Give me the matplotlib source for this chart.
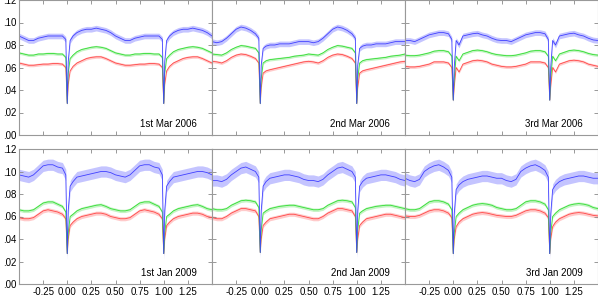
import matplotlib
matplotlib.use("Agg")
import matplotlib.pyplot as plt
import numpy as np

# orbital phase grid (one period, repeated on the plot)
PHASE = [0.00, 0.01, 0.03, 0.06, 0.10, 0.15, 0.20, 0.25, 0.30, 0.35, 0.40, 0.45,
         0.50, 0.55, 0.60, 0.65, 0.70, 0.75, 0.80, 0.85, 0.90, 0.95, 0.985]

LABELS = ["1st Mar 2006", "2nd Mar 2006", "3rd Mar 2006",
          "1st Jan 2009", "2nd Jan 2009", "3rd Jan 2009"]

XTICKS = [-0.5, -0.25, 0.0, 0.25, 0.5, 0.75, 1.0, 1.25, 1.5]
XTICK_LABELS = ["", "-0.25", "0.00", "0.25", "0.50", "0.75", "1.00", "1.25", ""]

BLUE = [
    [0.028, 0.065, 0.084, 0.088, 0.091, 0.093, 0.094, 0.094, 0.095, 0.094, 0.093, 0.091,
     0.088, 0.086, 0.084, 0.084, 0.086, 0.087, 0.088, 0.088, 0.088, 0.088, 0.085],
    [0.028, 0.062, 0.077, 0.079, 0.080, 0.080, 0.081, 0.081, 0.081, 0.082, 0.083, 0.083,
     0.083, 0.082, 0.083, 0.086, 0.090, 0.094, 0.096, 0.095, 0.093, 0.090, 0.086],
    [0.031, 0.060, 0.084, 0.080, 0.088, 0.089, 0.090, 0.0905, 0.089, 0.088, 0.086, 0.0845,
     0.084, 0.084, 0.083, 0.085, 0.087, 0.089, 0.090, 0.091, 0.091, 0.090, 0.085],
    [0.027, 0.065, 0.087, 0.091, 0.095, 0.096, 0.097, 0.098, 0.099, 0.100, 0.100, 0.099,
     0.097, 0.096, 0.095, 0.097, 0.101, 0.105, 0.106, 0.106, 0.104, 0.103, 0.097],
    [0.028, 0.065, 0.087, 0.091, 0.094, 0.095, 0.096, 0.097, 0.097, 0.096, 0.095, 0.093,
     0.092, 0.092, 0.091, 0.093, 0.097, 0.100, 0.103, 0.104, 0.102, 0.100, 0.095],
    [0.027, 0.062, 0.084, 0.088, 0.091, 0.093, 0.094, 0.095, 0.096, 0.096, 0.095, 0.094,
     0.094, 0.092, 0.091, 0.093, 0.100, 0.103, 0.105, 0.106, 0.104, 0.101, 0.095],
]

GREEN = [
    [0.028, 0.055, 0.068, 0.071, 0.074, 0.076, 0.077, 0.078, 0.0785, 0.078, 0.077, 0.075,
     0.073, 0.072, 0.071, 0.071, 0.072, 0.072, 0.0725, 0.0725, 0.072, 0.072, 0.069],
    [0.028, 0.050, 0.064, 0.066, 0.067, 0.0675, 0.068, 0.0685, 0.069, 0.070, 0.0705, 0.071,
     0.072, 0.0715, 0.071, 0.073, 0.076, 0.078, 0.0795, 0.079, 0.078, 0.077, 0.073],
    [0.031, 0.050, 0.070, 0.066, 0.072, 0.0735, 0.075, 0.0755, 0.075, 0.074, 0.0725, 0.0715,
     0.071, 0.0705, 0.0705, 0.071, 0.072, 0.073, 0.0745, 0.075, 0.075, 0.074, 0.070],
    [0.027, 0.045, 0.060, 0.062, 0.065, 0.067, 0.068, 0.069, 0.070, 0.0705, 0.069, 0.067,
     0.066, 0.065, 0.065, 0.066, 0.069, 0.072, 0.073, 0.073, 0.071, 0.069, 0.064],
    [0.028, 0.048, 0.063, 0.065, 0.067, 0.068, 0.069, 0.0695, 0.070, 0.070, 0.069, 0.068,
     0.067, 0.066, 0.066, 0.067, 0.070, 0.072, 0.074, 0.0745, 0.074, 0.073, 0.068],
    [0.027, 0.045, 0.060, 0.063, 0.066, 0.068, 0.070, 0.071, 0.0715, 0.071, 0.070, 0.068,
     0.067, 0.066, 0.066, 0.067, 0.070, 0.073, 0.074, 0.074, 0.073, 0.071, 0.066],
]

RED = [
    [0.028, 0.045, 0.057, 0.061, 0.064, 0.066, 0.068, 0.069, 0.0695, 0.0695, 0.068, 0.066,
     0.064, 0.063, 0.062, 0.062, 0.0625, 0.063, 0.063, 0.0635, 0.0635, 0.063, 0.060],
    [0.028, 0.042, 0.055, 0.057, 0.058, 0.059, 0.060, 0.061, 0.062, 0.063, 0.064, 0.065,
     0.0655, 0.065, 0.064, 0.066, 0.069, 0.071, 0.072, 0.0715, 0.070, 0.068, 0.064],
    [0.031, 0.043, 0.060, 0.056, 0.063, 0.0645, 0.066, 0.0665, 0.066, 0.065, 0.063, 0.062,
     0.061, 0.0605, 0.0605, 0.061, 0.062, 0.063, 0.065, 0.065, 0.065, 0.064, 0.060],
    [0.027, 0.040, 0.052, 0.055, 0.058, 0.060, 0.061, 0.062, 0.063, 0.063, 0.062, 0.060,
     0.059, 0.058, 0.058, 0.059, 0.062, 0.065, 0.066, 0.065, 0.064, 0.062, 0.058],
    [0.028, 0.040, 0.052, 0.055, 0.058, 0.059, 0.060, 0.061, 0.062, 0.062, 0.061, 0.060,
     0.059, 0.058, 0.058, 0.060, 0.063, 0.065, 0.067, 0.067, 0.066, 0.065, 0.060],
    [0.027, 0.040, 0.051, 0.055, 0.058, 0.060, 0.062, 0.063, 0.0635, 0.063, 0.062, 0.061,
     0.0605, 0.060, 0.060, 0.061, 0.063, 0.065, 0.066, 0.066, 0.065, 0.063, 0.059],
]

# half-width of the scatter around each curve (blue, green, red), per season
SCATTER_2006 = [0.0025, 0.0012, 0.0013]
SCATTER_2009 = [0.0050, 0.0015, 0.0018]

COLORS = ["#4040ff", "#33dd33", "#ff4848"]
BAND_COLORS = ["#c4c4ff", "#c4f4c4", "#ffcaca"]

plt.rcParams["font.family"] = ["Liberation Sans", "DejaVu Sans"]

fig = plt.figure(figsize=(5.98, 2.97), dpi=100)

W, H = 598.0, 297.0
col_left = [19, 212, 405]
row_top = [0, 149]
pw, ph = 193, 135


def tile(vals):
    p = np.array(PHASE + [1.0])
    v = np.array(vals + [vals[0]])
    xs = np.concatenate([p - 1, p, p + 1])
    ys = np.concatenate([v, v, v])
    return xs, ys


for i in range(6):
    r, c = divmod(i, 3)
    ax = fig.add_axes([col_left[c] / W, 1 - (row_top[r] + ph) / H, pw / W, ph / H])
    scatter = SCATTER_2006 if r == 0 else SCATTER_2009

    # light scatter band first, then the curves (red, green, blue on top)
    for k, series in zip([2, 1, 0], [RED, GREEN, BLUE]):
        xs, ys = tile(series[i])
        ax.fill_between(xs, ys - scatter[k], ys + scatter[k], color=BAND_COLORS[k],
                        linewidth=0)
    for k, series in zip([2, 1, 0], [RED, GREEN, BLUE]):
        xs, ys = tile(series[i])
        ax.plot(xs, ys, color=COLORS[k], linewidth=0.6)

    ax.set_xlim(-0.5, 1.5)
    ax.set_ylim(0, 0.12)
    ax.set_xticks(XTICKS)
    ax.set_xticklabels(XTICK_LABELS)
    ax.set_yticks(np.arange(0, 0.121, 0.02))
    ax.yaxis.set_major_formatter(plt.FuncFormatter(lambda v, pos: f"{v:.2f}".lstrip("0")))
    ax.tick_params(direction="in", top=True, right=True, length=3, width=0.6,
                   color="#888888", labelsize=7, pad=2)
    if r == 0:
        ax.tick_params(labelbottom=False)
    if c != 0:
        ax.tick_params(labelleft=False)
    for s in ax.spines.values():
        s.set_color("#999999")
        s.set_linewidth(0.8)

    ax.text(0.92, 0.085, LABELS[i], transform=ax.transAxes, ha="right", va="center",
            fontsize=7)

fig.savefig("out.png", dpi=100)
